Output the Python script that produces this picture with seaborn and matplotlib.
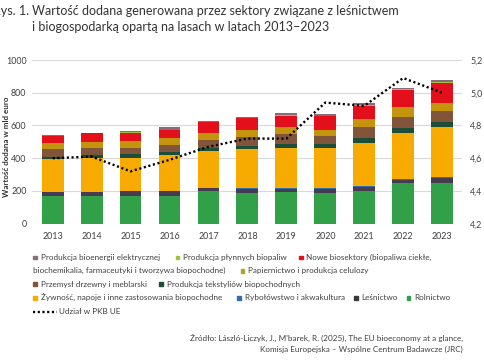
import numpy as np
import pandas as pd
import matplotlib
matplotlib.use("Agg")
import matplotlib.pyplot as plt
from matplotlib.patches import Rectangle
from matplotlib.lines import Line2D
from matplotlib.ticker import FuncFormatter
import seaborn as sns

sns.set_style("white")
plt.rcParams["font.family"] = ["Lato", "DejaVu Sans"]

# data (mld euro)
years = ['2013', '2014', '2015', '2016', '2017', '2018', '2019', '2020', '2021', '2022', '2023']
rolnictwo = [169, 169, 171, 171, 200, 186, 196, 189, 200, 247, 250]
lesnictwo = [24, 24, 26, 26, 17, 29, 19, 26, 27, 23, 32]
rybolowstwo = [3, 3, 3, 3, 3, 3, 3, 3, 3, 3, 3]
zywnosc = [197, 207, 199, 220, 226, 236, 246, 246, 265, 279, 308]
tekstylia = [17, 17, 27, 20, 18, 21, 21, 21, 30, 31, 30]
drzewny = [45, 42, 38, 39, 47, 56, 61, 51, 64, 71, 66]
papier = [36, 37, 41, 43, 45, 41, 43, 36, 49, 57, 50]
nowe = [45, 53, 51, 50, 63, 72, 71, 86, 81, 106, 121]
plynne = [2, 2, 2, 3, 2, 2, 3, 3, 4, 3, 3]
bioenergia = [6, 2, 10, 14, 4, 6, 11, 11, 16, 11, 13]
udzial_pkb = [4.60, 4.61, 4.52, 4.59, 4.67, 4.72, 4.72, 4.94, 4.92, 5.09, 5.00]

# stacking order bottom -> top
sectors = ['Rolnictwo', 'Leśnictwo', 'Rybołówstwo i akwakultura',
           'Żywność, napoje i inne zastosowania biopochodne',
           'Produkcja tekstyliów biopochodnych', 'Przemysł drzewny i meblarski',
           'Papiernictwo i produkcja celulozy', 'Nowe biosektory',
           'Produkcja płynnych biopaliw', 'Produkcja bioenergii elektrycznej']
values = [rolnictwo, lesnictwo, rybolowstwo, zywnosc, tekstylia, drzewny,
          papier, nowe, plynne, bioenergia]
colors = ['#31a049', '#463b50', '#2f6ea8', '#f7ab00', '#1c4d36', '#80553a',
          '#c4950c', '#e3101b', '#9dc23b', '#8a6d7a']

df = pd.DataFrame(dict(zip(sectors, values)), index=years)
df_cum = df.cumsum(axis=1)

fig = plt.figure(figsize=(4.85, 3.6), dpi=100)
ax = fig.add_axes([0.066, 0.3786, 0.8866, 0.4547])

# draw cumulative bars from the top layer down
for s, c in zip(sectors[::-1], colors[::-1]):
    sns.barplot(x=df_cum.index, y=df_cum[s].values, color=c, saturation=1,
                width=0.56, linewidth=0, ax=ax)

ax.set_ylim(0, 1000)
ax.set_yticks(range(0, 1001, 200))
ax.set_xlim(-0.53, 10.51)
ax.set_xlabel('')
ax.set_ylabel('Wartość dodana w mld euro', fontsize=5.8, fontweight='bold',
              color='#333333')
ax.yaxis.set_label_coords(-0.052, 0.47)
ax.yaxis.grid(True, color='#d9d9d9', linewidth=0.8)
ax.set_axisbelow(True)
for sp in ax.spines.values():
    sp.set_visible(False)
ax.tick_params(axis='both', length=0, labelsize=6.4, colors='#404040')
ax.tick_params(axis='y', pad=4)
ax.tick_params(axis='x', pad=6)

# share of EU GDP on right axis
ax2 = ax.twinx()
sns.lineplot(x=years, y=udzial_pkb, sort=False, color='black', linewidth=1.7,
             ax=ax2)
ax2.lines[0].set_linestyle((0, (0.9, 1.1)))
ax2.set_ylim(4.2, 5.2)
ax2.set_yticks(np.arange(4.2, 5.21, 0.2))
ax2.yaxis.set_major_formatter(FuncFormatter(lambda v, p: f'{v:.1f}'.replace('.', ',')))
ax2.set_ylabel('')
for sp in ax2.spines.values():
    sp.set_visible(False)
ax2.tick_params(axis='y', length=0, labelsize=6.4, colors='#404040', pad=6)
ax.set_xlim(-0.53, 10.51)

# title
W, H = 485, 360
def fx(x): return x / W
def fy(y): return 1 - y / H

fig.text(fx(29), fy(11), 'Rys. 1.', ha='right', va='center', fontsize=9, color='#333333')
fig.text(fx(32), fy(11), 'Wartość dodana generowana przez sektory związane z leśnictwem',
         ha='left', va='center', fontsize=9, color='#333333')
fig.text(fx(32), fy(27), 'i biogospodarką opartą na lasach w latach 2013–2023',
         ha='left', va='center', fontsize=9, color='#333333')

# legend, laid out as in the original
leg_fs = 5.9
leg_col = '#404040'
def leg_item(x, y, c, label):
    fig.patches.append(Rectangle((fx(x), fy(y) - 1.8 / H), 3.6 / W, 3.6 / H,
                                 transform=fig.transFigure, color=c, figure=fig))
    fig.text(fx(x + 7.3), fy(y), label, ha='left', va='center', fontsize=leg_fs, color=leg_col)

leg_item(33.3, 257.3, colors[9], 'Produkcja bioenergii elektrycznej')
leg_item(175.7, 257.3, colors[8], 'Produkcja płynnych biopaliw')
leg_item(299, 257.3, colors[7], 'Nowe biosektory (biopaliwa ciekłe,')
fig.text(fx(33), fy(270.7), 'biochemikalia, farmaceutyki i tworzywa biopochodne)',
         ha='left', va='center', fontsize=leg_fs, color=leg_col)
leg_item(240.7, 270.7, '#b5a228', 'Papiernictwo i produkcja celulozy')
leg_item(33.3, 284, colors[5], 'Przemysł drzewny i meblarski')
leg_item(159.3, 284, colors[4], 'Produkcja tekstyliów biopochodnych')
leg_item(33.3, 297.7, colors[3], 'Żywność, napoje i inne zastosowania biopochodne')
leg_item(237.3, 297.7, colors[2], 'Rybołówstwo i akwakultura')
leg_item(354.3, 297.7, '#3a3a3a', 'Leśnictwo')
leg_item(406.7, 297.7, colors[0], 'Rolnictwo')
fig.lines.append(Line2D([fx(33), fx(57)], [fy(311.7), fy(311.7)], transform=fig.transFigure,
                        color='black', linewidth=1.7, linestyle=(0, (0.9, 1.1)), figure=fig))
fig.text(fx(59), fy(311.7), 'Udział w PKB UE', ha='left', va='center', fontsize=leg_fs, color=leg_col)

# source
fig.text(fx(462.7), fy(337.7),
         "Źródło: László-Liczyk, J., M'barek, R. (2025), The EU bioeconomy at a glance,",
         ha='right', va='center', fontsize=leg_fs, color=leg_col)
fig.text(fx(462.7), fy(349), 'Komisja Europejska – Wspólne Centrum Badawcze (JRC)',
         ha='right', va='center', fontsize=leg_fs, color=leg_col)

fig.savefig('out.png', dpi=100)
